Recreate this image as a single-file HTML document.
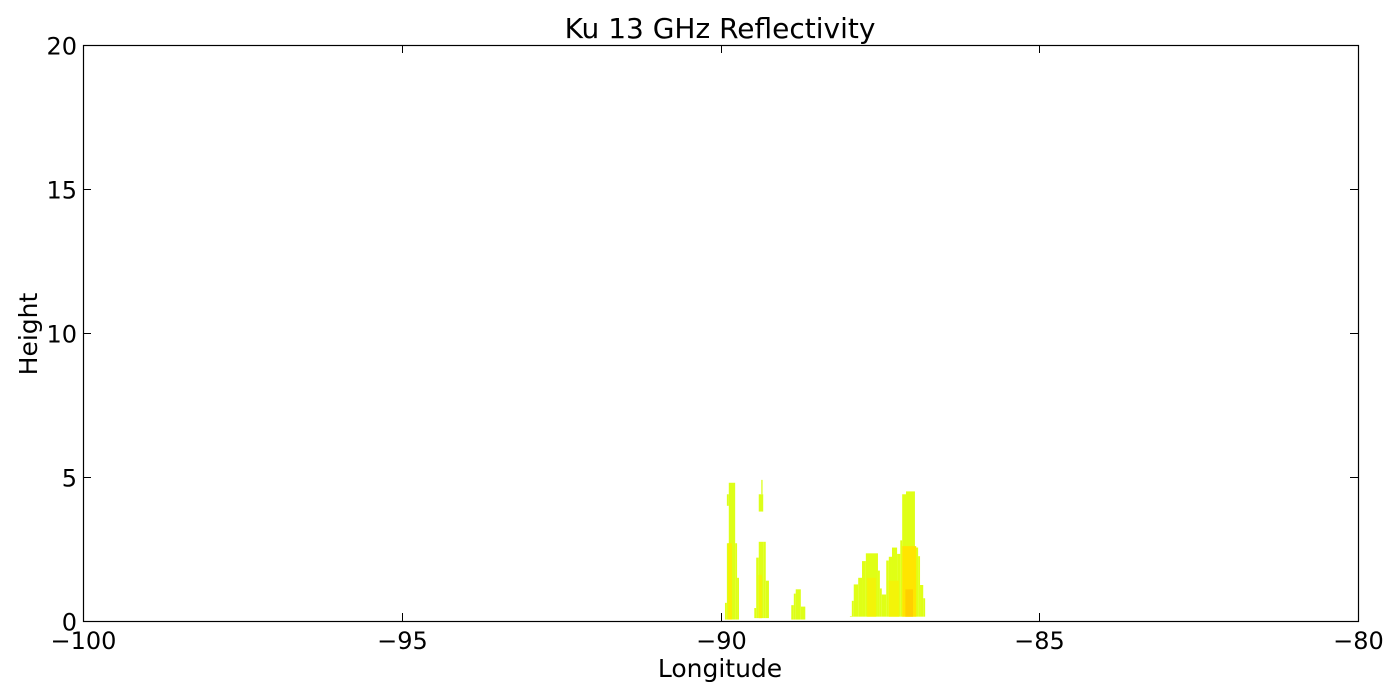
<!DOCTYPE html>
<html><head><meta charset="utf-8"><style>
body{margin:0;background:#fff}
svg{display:block;font-family:"DejaVu Sans","Liberation Sans",sans-serif}
</style></head><body>
<svg id="chart" width="1400" height="700">
<rect x="0" y="0" width="1400" height="700" fill="#fff"/>
<text x="720" y="38" font-size="28" text-anchor="middle">Ku 13 GHz Reflectivity</text>
<g id="marks"></g>
<g id="axes"></g>
<text x="720" y="677" font-size="25" text-anchor="middle">Longitude</text>
<text transform="translate(37,334) rotate(-90)" font-size="25" text-anchor="middle">Height</text>
</svg>
<script>
const xTicks=[-100,-95,-90,-85,-80];
const yTicks=[0,5,10,15,20];
// cells: [lon0, lon1, bottom, top, dBZ]
const cellLon0=[-89.93,-89.90,-89.87,-89.77,-89.74,-89.90,-89.47,-89.44,-89.40,-89.33,-89.29,-89.40,-89.36,-88.89,-88.85,-88.82,-88.74,-87.97,-87.94,-87.91,-87.84,-87.78,-87.72,-87.53,-87.50,-87.47,-87.40,-87.36,-87.31,-87.23,-87.18,-87.15,-87.09,-86.95,-86.90,-86.87,-86.82,-89.88,-89.40,-87.70,-87.36,-87.15,-87.10];
const cellLon1=[-89.90,-89.87,-89.77,-89.74,-89.71,-89.87,-89.44,-89.40,-89.33,-89.29,-89.24,-89.33,-89.34,-88.85,-88.82,-88.74,-88.67,-87.94,-87.91,-87.84,-87.78,-87.72,-87.53,-87.50,-87.47,-87.40,-87.36,-87.31,-87.23,-87.18,-87.15,-87.09,-86.95,-86.90,-86.87,-86.82,-86.79,-89.82,-89.35,-87.56,-87.20,-86.93,-86.98];
const cellBot=[0.05,0.05,0.05,0.05,0.05,4.0,0.1,0.1,0.1,0.1,0.1,3.8,4.4,0.05,0.05,0.05,0.05,0.15,0.15,0.15,0.15,0.15,0.15,0.15,0.15,0.15,0.15,0.15,0.15,0.15,0.15,0.15,0.15,0.15,0.15,0.15,0.15,0.05,0.1,0.15,0.15,0.15,0.15];
const cellTop=[0.63,2.7,4.8,2.7,1.5,4.4,0.45,2.2,2.75,2.75,1.4,4.4,4.9,0.55,0.95,1.1,0.5,0.17,0.7,1.27,1.5,2.08,2.35,1.75,1.13,0.92,2.1,2.23,2.55,2.33,2.8,4.4,4.5,2.55,2.25,1.25,0.79,2.7,1.6,1.5,1.4,2.6,1.1];
const cellDbz=[18,18,17,18,17,16,18,18,18,18,17,16,16,17,17,17,17,18,18,18,18,19,19,19,18,18,19,19,19,19,19,18,18,19,19,19,18,24,23,23,23,26,29];
const X0=83,X1=1358,Y0=621,Y1=45;
const xs=v=>X0+(v+100)/20*(X1-X0);
const ys=v=>Y0-v/20*(Y0-Y1);
function col(d){
  const stops=[[15,[218,255,26]],[20,[226,255,20]],[25,[255,236,0]],[30,[255,200,0]],[35,[255,155,0]]];
  if(d<=stops[0][0])return `rgb(${stops[0][1]})`;
  for(let i=1;i<stops.length;i++){if(d<=stops[i][0]){const t=(d-stops[i-1][0])/(stops[i][0]-stops[i-1][0]);const a=stops[i-1][1],b=stops[i][1];return `rgb(${a.map((v,k)=>Math.round(v+(b[k]-v)*t)).join(',')})`;}}
  return 'rgb(255,155,0)';
}
const NS='http://www.w3.org/2000/svg';
const marks=document.getElementById('marks');
for(let i=0;i<cellLon0.length;i++){
  const r=document.createElementNS(NS,'rect');
  
  
  const x0=xs(cellLon0[i]),x1=xs(cellLon1[i]);
  r.setAttribute('x',x0);r.setAttribute('width',Math.max(1,x1-x0));
  r.setAttribute('y',ys(cellTop[i]));r.setAttribute('height',ys(cellBot[i])-ys(cellTop[i]));
  r.setAttribute('fill',col(cellDbz[i]));
  marks.appendChild(r);
}
const axes=document.getElementById('axes');
const frame=document.createElementNS(NS,'rect');


frame.setAttribute('x',X0+0.5);frame.setAttribute('y',Y1+0.5);frame.setAttribute('width',X1-X0);frame.setAttribute('height',Y0-Y1);
frame.setAttribute('fill','none');frame.setAttribute('stroke','#000');frame.setAttribute('stroke-width','1.2');
axes.appendChild(frame);
function line(x1,y1,x2,y2){const l=document.createElementNS(NS,'line');l.setAttribute('x1',x1);l.setAttribute('y1',y1);l.setAttribute('x2',x2);l.setAttribute('y2',y2);l.setAttribute('stroke','#000');axes.appendChild(l);}
xTicks.forEach(t=>{const x=Math.round(xs(t))+0.5;line(x,Y0,x,Y0-8);line(x,Y1,x,Y1+8);
  const tx=document.createElementNS(NS,'text');
  
  
  tx.setAttribute('x',x);tx.setAttribute('y',649);tx.setAttribute('font-size','24');tx.setAttribute('text-anchor','middle');tx.textContent=t<0?'\u2212'+(-t):t;axes.appendChild(tx);});
yTicks.forEach(t=>{const y=Math.round(ys(t))+0.5;line(X0,y,X0+8,y);line(X1,y,X1-8,y);
  const tx=document.createElementNS(NS,'text');
  
  
  tx.setAttribute('x',77);tx.setAttribute('y',y+9);tx.setAttribute('font-size','24');tx.setAttribute('text-anchor','end');tx.textContent=t;axes.appendChild(tx);});
</script>
</body></html>
